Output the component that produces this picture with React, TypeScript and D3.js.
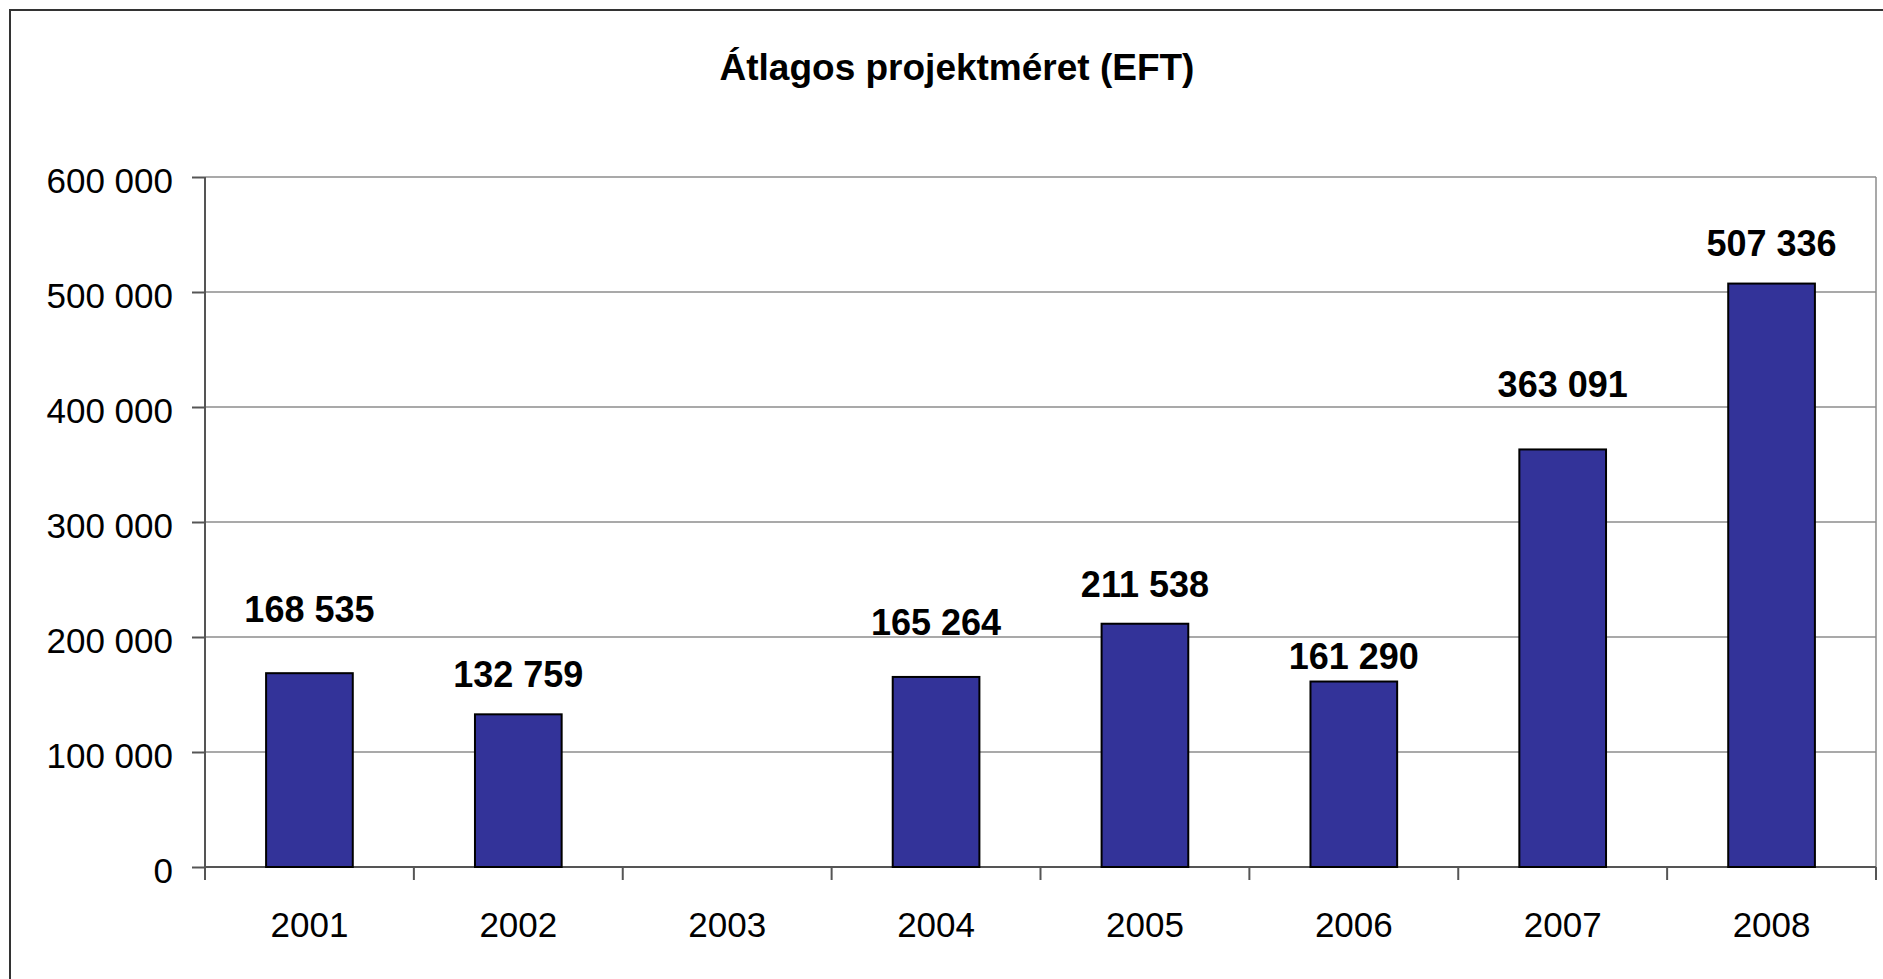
import * as d3 from 'd3'
import { useEffect, useRef } from 'react'

// Data
const years = ['2001', '2002', '2003', '2004', '2005', '2006', '2007', '2008']
const values: (number | null)[] = [168535, 132759, null, 165264, 211538, 161290, 363091, 507336]
const yTicks = [0, 100000, 200000, 300000, 400000, 500000, 600000]
const title = 'Átlagos projektméret (EFT)'

// hand-moved labels in the original, lift in px above the default spot
const labelNudge = [24, 0, 0, 15, 0, -14, 25, 1]

const fmt = (v: number) => d3.format(',')(v).replace(/,/g, ' ')

const App = () => {
  const ref = useRef<SVGSVGElement | null>(null)

  useEffect(() => {
    if (!ref.current) return
    const width = 1883
    const height = 979
    const margin = { top: 177, right: 7, bottom: 112, left: 205 }
    const font = '"Liberation Sans", Arial, sans-serif'

    const svg = d3.select(ref.current)
    svg.selectAll('*').remove()
    svg.attr('width', width).attr('height', height)

    svg.append('rect').attr('width', width).attr('height', height).attr('fill', '#fff')

    // outer chart border (runs off right and bottom)
    svg
      .append('rect')
      .attr('x', 10)
      .attr('y', 10)
      .attr('width', width + 20)
      .attr('height', height + 20)
      .attr('fill', 'none')
      .attr('stroke', '#333')
      .attr('stroke-width', 2)

    const x = d3
      .scaleBand()
      .domain(years)
      .range([margin.left, width - margin.right])
      .paddingInner(0.585)
      .paddingOuter(0.2925)
    const band = d3.scaleBand().domain(years).range([margin.left, width - margin.right])
    const y = d3
      .scaleLinear()
      .domain([0, 600000])
      .range([height - margin.bottom, margin.top])

    // gridlines
    svg
      .append('g')
      .selectAll('line')
      .data(yTicks.filter((d) => d > 0))
      .enter()
      .append('line')
      .attr('x1', margin.left)
      .attr('x2', width - margin.right)
      .attr('y1', (d) => y(d))
      .attr('y2', (d) => y(d))
      .attr('stroke', '#8c8c8c')
      .attr('stroke-width', 1.5)

    // right edge of plot area
    svg
      .append('line')
      .attr('x1', width - margin.right)
      .attr('x2', width - margin.right)
      .attr('y1', margin.top)
      .attr('y2', y(0))
      .attr('stroke', '#8c8c8c')
      .attr('stroke-width', 1.5)

    // Y axis
    svg
      .append('g')
      .attr('transform', `translate(${margin.left},0)`)
      .call(d3.axisLeft(y).tickValues(yTicks).tickSize(13).tickPadding(19).tickFormat((d) => fmt(+d)))
      .call((g) => g.select('.domain').attr('d', `M0,${y(600000)}V${y(0) + 13}`))
      .call((g) => g.selectAll('line, .domain').attr('stroke', '#555').attr('stroke-width', 2))
      .call((g) =>
        g
          .selectAll('text')
          .attr('dy', null)
          .attr('y', 15)
          .attr('fill', '#000')
          .style('font-family', font)
          .style('font-size', '35px')
      )

    // X axis: ticks at band boundaries
    const xAxis = svg.append('g').attr('transform', `translate(0,${y(0)})`)
    xAxis
      .append('line')
      .attr('x1', margin.left)
      .attr('x2', width - margin.right)
      .attr('stroke', '#555')
      .attr('stroke-width', 2)
    xAxis
      .selectAll('.tk')
      .data(years)
      .enter()
      .append('line')
      .attr('x1', (d) => (band(d) as number) + band.bandwidth())
      .attr('x2', (d) => (band(d) as number) + band.bandwidth())
      .attr('y2', 13)
      .attr('stroke', '#555')
      .attr('stroke-width', 2)
    xAxis
      .selectAll('text')
      .data(years)
      .enter()
      .append('text')
      .attr('x', (d) => (band(d) as number) + band.bandwidth() / 2)
      .attr('y', 70)
      .attr('text-anchor', 'middle')
      .style('font-family', font)
      .style('font-size', '35px')
      .text((d) => d)

    const rows = years.map((yr, i) => ({ yr, v: values[i], nudge: labelNudge[i] })).filter((d) => d.v != null)

    // bars
    svg
      .append('g')
      .selectAll('rect')
      .data(rows)
      .enter()
      .append('rect')
      .attr('x', (d) => x(d.yr) as number)
      .attr('width', x.bandwidth())
      .attr('y', (d) => y(d.v as number))
      .attr('height', (d) => y(0) - y(d.v as number))
      .attr('fill', '#333399')
      .attr('stroke', '#000')
      .attr('stroke-width', 2)

    // value labels
    svg
      .append('g')
      .selectAll('text')
      .data(rows)
      .enter()
      .append('text')
      .attr('x', (d) => (band(d.yr) as number) + band.bandwidth() / 2)
      .attr('y', (d) => y(d.v as number) - 27 - d.nudge)
      .attr('text-anchor', 'middle')
      .style('font-family', font)
      .style('font-size', '36px')
      .style('font-weight', 'bold')
      .text((d) => fmt(d.v as number))

    // title
    svg
      .append('text')
      .attr('x', 957)
      .attr('y', 80)
      .attr('text-anchor', 'middle')
      .style('font-family', font)
      .style('font-size', '37px')
      .style('font-weight', 'bold')
      .text(title)
  }, [])

  return <svg ref={ref} style={{ position: 'absolute', left: 0, top: 0, display: 'block' }} />
}

export default App
